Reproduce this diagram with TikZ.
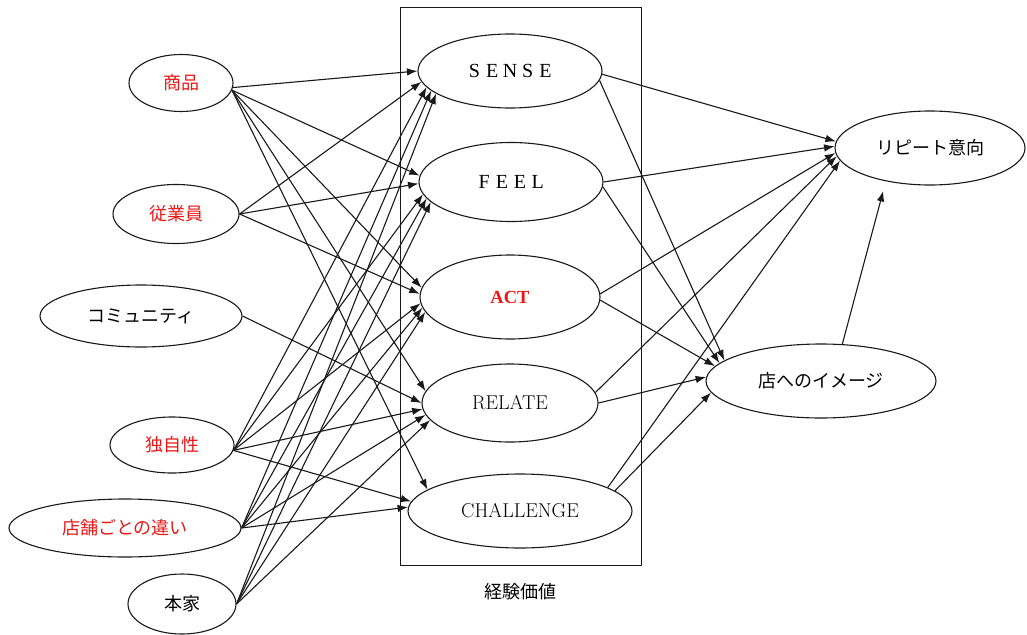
\documentclass[tikz,border=0pt]{standalone}
\usepackage{fontspec}
\newfontfamily\jp{Noto Sans CJK JP}
\newfontfamily\wideserif{Liberation Serif}
\usetikzlibrary{shapes.geometric,arrows.meta}
\definecolor{jred}{RGB}{232,24,24}
\newcommand\fwl[1]{\makebox[17.8pt]{#1}}
\begin{document}
\begin{tikzpicture}[x=1pt,y=-1pt,
  ell/.style={ellipse,draw=black!90,line width=1.1pt,inner sep=0pt},
  jtxt/.style={font=\jp\fontsize{18}{20}\selectfont},
  ltxt/.style={font=\fontsize{20}{22}\selectfont},
  wtxt/.style={font=\wideserif\fontsize{20}{22}\selectfont},
  redtxt/.style={text=jred},
  arr/.style={draw=black!90,line width=1.1pt,-{Latex[length=10.5pt,width=7.5pt]}},
  frame/.style={draw=black!90,line width=1pt,inner sep=0pt}]
\useasboundingbox (0,0) rectangle (1027,634);

% experience-value box
\node[frame,minimum width=241pt,minimum height=557pt] (box) at (520.5,286.5) {};
\node[jtxt] (kvlabel) at (520,592) {経験価値};

% left nodes
\node[ell,jtxt,redtxt,minimum width=104pt,minimum height=57pt] (shohin) at (181,83) {商品};
\node[ell,jtxt,redtxt,minimum width=126pt,minimum height=59pt] (jugyo) at (176,214) {従業員};
\node[ell,jtxt,minimum width=202pt,minimum height=62pt] (comm) at (141,316) {コミュニティ};
\node[ell,jtxt,redtxt,minimum width=124pt,minimum height=56pt] (doku) at (172,445) {独自性};
\node[ell,jtxt,redtxt,minimum width=232pt,minimum height=58pt] (tenpo) at (125,528) {店舗ごとの違い};
\node[ell,jtxt,minimum width=108pt,minimum height=60pt] (honke) at (182,604) {本家};

% middle nodes
\node[ell,wtxt,minimum width=184pt,minimum height=74pt] (sense) at (510,71) {\fwl{S}\fwl{E}\fwl{N}\fwl{S}\fwl{E}};
\node[ell,wtxt,minimum width=184pt,minimum height=79pt] (feel) at (511,182) {\fwl{F}\fwl{E}\fwl{E}\fwl{L}};
\node[ell,redtxt,font=\wideserif\bfseries\fontsize{18.5}{22}\selectfont,minimum width=180pt,minimum height=84pt] (act) at (510,297) {ACT};
\node[ell,ltxt,minimum width=176pt,minimum height=78pt] (relate) at (510,403) {RELATE};
\node[ell,ltxt,minimum width=224pt,minimum height=74pt] (challenge) at (520,511) {CHALLENGE};

% right nodes
\node[ell,jtxt,minimum width=190pt,minimum height=74pt] (repeat) at (930,148) {リピート意向};
\node[ell,jtxt,minimum width=230pt,minimum height=74pt] (mise) at (821,381) {店へのイメージ};

% left -> middle
\draw[arr] (shohin.-5) -- (sense.180);
\draw[arr] (shohin.-8) -- (feel.176);
\draw[arr] (shohin.-8) -- (act.174);
\draw[arr] (shohin.-8) -- (relate.172);
\draw[arr] (shohin.-8) -- (challenge.167);

\draw[arr] (jugyo.east) -- (sense.187);
\draw[arr] (jugyo.east) -- (feel.181);
\draw[arr] (jugyo.east) -- (act.178);

\draw[arr] (comm.east) -- (relate.180);

\draw[arr] (doku.-5) -- (sense.191);
\draw[arr] (doku.-5) -- (feel.188);
\draw[arr] (doku.-5) -- (act.184);
\draw[arr] (doku.-5) -- (relate.184);
\draw[arr] (doku.-5) -- (challenge.175);

\draw[arr] (tenpo.east) -- (sense.194);
\draw[arr] (tenpo.east) -- (feel.191);
\draw[arr] (tenpo.east) -- (act.187);
\draw[arr] (tenpo.east) -- (relate.188);
\draw[arr] (tenpo.east) -- (challenge.178);

\draw[arr] (honke.east) -- (sense.197);
\draw[arr] (honke.east) -- (feel.194);
\draw[arr] (honke.east) -- (act.190);
\draw[arr] (honke.east) -- (relate.192);

% middle -> right
\draw[arr] (sense.-2) -- (repeat.176);
\draw[arr] (sense.-6) -- (mise.168);
\draw[arr] (feel.0) -- (repeat.179);
\draw[arr] (feel.-3) -- (mise.170);
\draw[arr] (act.2) -- (repeat.183);
\draw[arr] (act.-2) -- (mise.172);
\draw[arr] (relate.7) -- (repeat.185);
\draw[arr] (relate.0) -- (mise.178);
\draw[arr] (challenge.15) -- (repeat.188);
\draw[arr] (challenge.12) -- (mise.186);

\draw[arr,shorten >=10pt] (mise.60) -- (repeat.217);
\end{tikzpicture}
\end{document}
